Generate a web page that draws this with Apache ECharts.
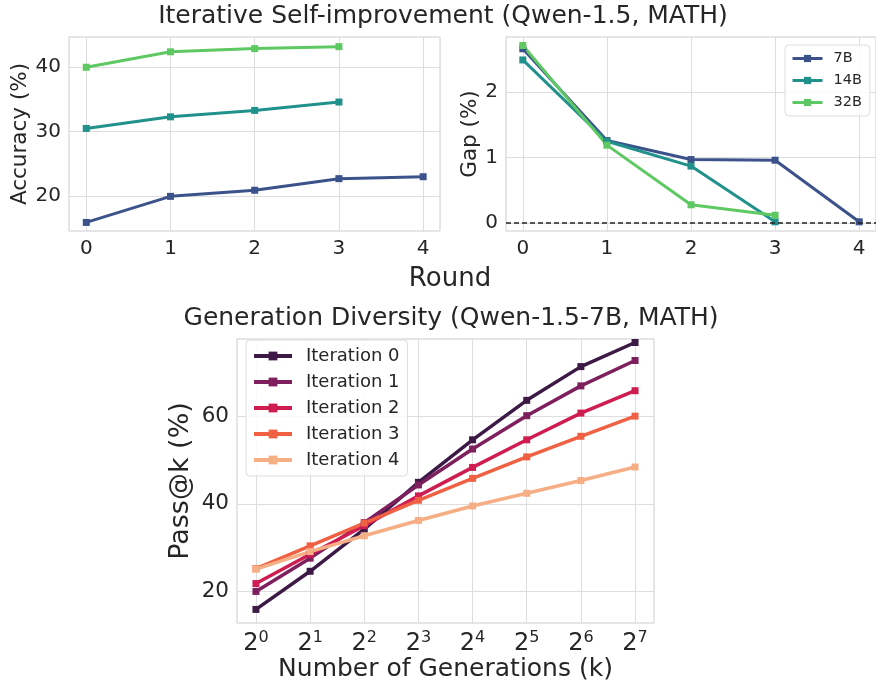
<!DOCTYPE html>
<html><head><meta charset="utf-8">
<script src="https://cdn.jsdelivr.net/npm/echarts@6/dist/echarts.min.js"></script>
<style>html,body{margin:0;padding:0;background:#fff}#c{width:876px;height:687px}</style>
</head><body><div id="c"></div>
<script>
const rounds = [0, 1, 2, 3, 4];
const acc7B = [15.9, 19.95, 20.9, 22.7, 23.0];
const acc14B = [30.5, 32.3, 33.3, 34.6];
const acc32B = [40.0, 42.4, 42.9, 43.2];
const gap7B = [2.66, 1.26, 0.97, 0.96, 0.02];
const gap14B = [2.49, 1.25, 0.87, 0.02];
const gap32B = [2.71, 1.19, 0.28, 0.12];
const genExp = [0, 1, 2, 3, 4, 5, 6, 7];
const iter0 = [15.9, 24.6, 34.2, 44.9, 54.6, 63.6, 71.3, 76.8];
const iter1 = [20.0, 27.6, 35.7, 44.3, 52.5, 60.1, 66.9, 72.7];
const iter2 = [21.8, 28.5, 35.0, 41.8, 48.3, 54.6, 60.7, 65.8];
const iter3 = [25.2, 30.4, 35.6, 40.8, 45.8, 50.7, 55.4, 60.0];
const iter4 = [25.1, 29.1, 32.7, 36.2, 39.5, 42.4, 45.3, 48.4];
const sizeNames = ['7B', '14B', '32B'];
const iterNames = ['Iteration 0', 'Iteration 1', 'Iteration 2', 'Iteration 3', 'Iteration 4'];
const accTicks = [20, 30, 40];
const gapTicks = [0, 1, 2];
const passTicks = [20, 40, 60];

const F = 'DejaVu Sans';
const TXT = '#262626';
const GRIDC = '#dddddd';
const sizeColors = ['#3b528b', '#21918c', '#5ec962'];
const iterColors = ['#3d1a46', '#7e1f5e', '#cf1c51', '#f06043', '#f6ae85'];

const pair = (xs, ys) => ys.map((y, i) => [xs[i], y]);

function xAx(gi, min, max, ticks, fs, fmt, rich, margin) {
  const o = {
    type: 'value', gridIndex: gi, min, max,
    axisLine: {show: false}, axisTick: {show: false, customValues: ticks},
    axisLabel: {customValues: ticks, color: TXT, fontFamily: F, fontSize: fs, margin: margin},
    splitLine: {show: true, lineStyle: {color: GRIDC, width: 1}}
  };
  if (fmt) o.axisLabel.formatter = fmt;
  if (rich) o.axisLabel.rich = rich;
  return o;
}
function yAx(gi, min, max, ticks, fs, name, nameFs, nameGap) {
  return {
    type: 'value', gridIndex: gi, min, max,
    axisLine: {show: false}, axisTick: {show: false, customValues: ticks},
    axisLabel: {customValues: ticks, color: TXT, fontFamily: F, fontSize: fs, margin: 8},
    splitLine: {show: true, lineStyle: {color: GRIDC, width: 1}},
    name, nameLocation: 'middle', nameGap,
    nameTextStyle: {color: TXT, fontFamily: F, fontSize: nameFs}
  };
}
function line(name, data, color, xi, yi, extra) {
  return Object.assign({
    type: 'line', name, data, xAxisIndex: xi, yAxisIndex: yi,
    symbol: 'rect', symbolSize: 7, showSymbol: true,
    lineStyle: {color, width: 3}, itemStyle: {color},
    emphasis: {disabled: true}, animation: false
  }, extra || {});
}

const series = [
  line(sizeNames[0], pair(rounds, acc7B), sizeColors[0], 0, 0),
  line(sizeNames[1], pair(rounds, acc14B), sizeColors[1], 0, 0),
  line(sizeNames[2], pair(rounds, acc32B), sizeColors[2], 0, 0),
  line(sizeNames[0], pair(rounds, gap7B), sizeColors[0], 1, 1, {
    markLine: {silent: true, symbol: 'none', label: {show: false},
      lineStyle: {color: '#222', type: [5, 3], width: 1.5}, data: [{yAxis: 0}]}
  }),
  line(sizeNames[1], pair(rounds, gap14B), sizeColors[1], 1, 1),
  line(sizeNames[2], pair(rounds, gap32B), sizeColors[2], 1, 1),
];
[iter0, iter1, iter2, iter3, iter4].forEach((d, i) => {
  series.push(line(iterNames[i], pair(genExp, d), iterColors[i], 2, 2, {lineStyle: {color: iterColors[i], width: 3.5}}));
});

const chart = echarts.init(document.getElementById('c'), null, {renderer: 'canvas'});
chart.setOption({
  backgroundColor: '#fff',
  animation: false,
  title: [
    {text: 'Iterative Self-improvement (Qwen-1.5, MATH)', left: 438, textAlign: 'center', top: -1,
      textStyle: {fontFamily: F, fontSize: 25, fontWeight: 'normal', color: TXT}},
    {text: 'Generation Diversity (Qwen-1.5-7B, MATH)', left: 446, textAlign: 'center', top: 301,
      textStyle: {fontFamily: F, fontSize: 25, fontWeight: 'normal', color: TXT}},
    {text: 'Round', left: 445, textAlign: 'center', top: 261,
      textStyle: {fontFamily: F, fontSize: 26, fontWeight: 'normal', color: TXT}}
  ],
  grid: [
    {left: 69, top: 37, width: 371, height: 194, show: true, borderColor: '#cccccc', borderWidth: 1, backgroundColor: 'transparent'},
    {left: 506, top: 37, width: 372, height: 194, show: true, borderColor: '#cccccc', borderWidth: 1, backgroundColor: 'transparent'},
    {left: 237, top: 339, width: 417, height: 284, show: true, borderColor: '#cccccc', borderWidth: 1, backgroundColor: 'transparent'}
  ],
  xAxis: [
    xAx(0, -0.205, 4.2, rounds, 20, null, null, 8),
    xAx(1, -0.2, 4.2, rounds, 20, null, null, 8),
    Object.assign(xAx(2, -0.35, 7.35, genExp, 24, v => '2{sup|' + v + '}',
      {sup: {fontSize: 16, fontFamily: F, color: TXT, padding: [0, 0, 12, 0]}}, 7), {
      name: 'Number of Generations (k)', nameLocation: 'middle', nameGap: 33,
      nameTextStyle: {color: TXT, fontFamily: F, fontSize: 25}
    })
  ],
  yAxis: [
    yAx(0, 14.57, 44.7, accTicks, 20, 'Accuracy (%)', 21.5, 37),
    yAx(1, -0.12, 2.84, gapTicks, 20, 'Gap (%)', 21.5, 22),
    yAx(2, 12.8, 77.6, passTicks, 21.5, 'Pass@k (%)', 27, 43)
  ],
  legend: [
    {data: sizeNames, left: 785, top: 45, orient: 'vertical', itemGap: 7,
      itemWidth: 30, itemHeight: 9, padding: [6, 8, 6, 6],
      lineStyle: {width: 3},
      backgroundColor: 'rgba(255,255,255,0.85)', borderColor: '#dddddd', borderWidth: 1, borderRadius: 4,
      textStyle: {fontFamily: F, fontSize: 14.5, color: TXT, padding: [0, 0, 0, 6]},
      selectedMode: false},
    {data: iterNames, left: 246, top: 340, orient: 'vertical', itemGap: 8,
      itemWidth: 38, itemHeight: 11, padding: [7, 8, 7, 6],
      lineStyle: {width: 4},
      backgroundColor: 'rgba(255,255,255,0.85)', borderColor: '#dddddd', borderWidth: 1, borderRadius: 4,
      textStyle: {fontFamily: F, fontSize: 18, color: TXT, padding: [0, 0, 0, 9]},
      selectedMode: false}
  ],
  series
});
</script>
</body></html>
